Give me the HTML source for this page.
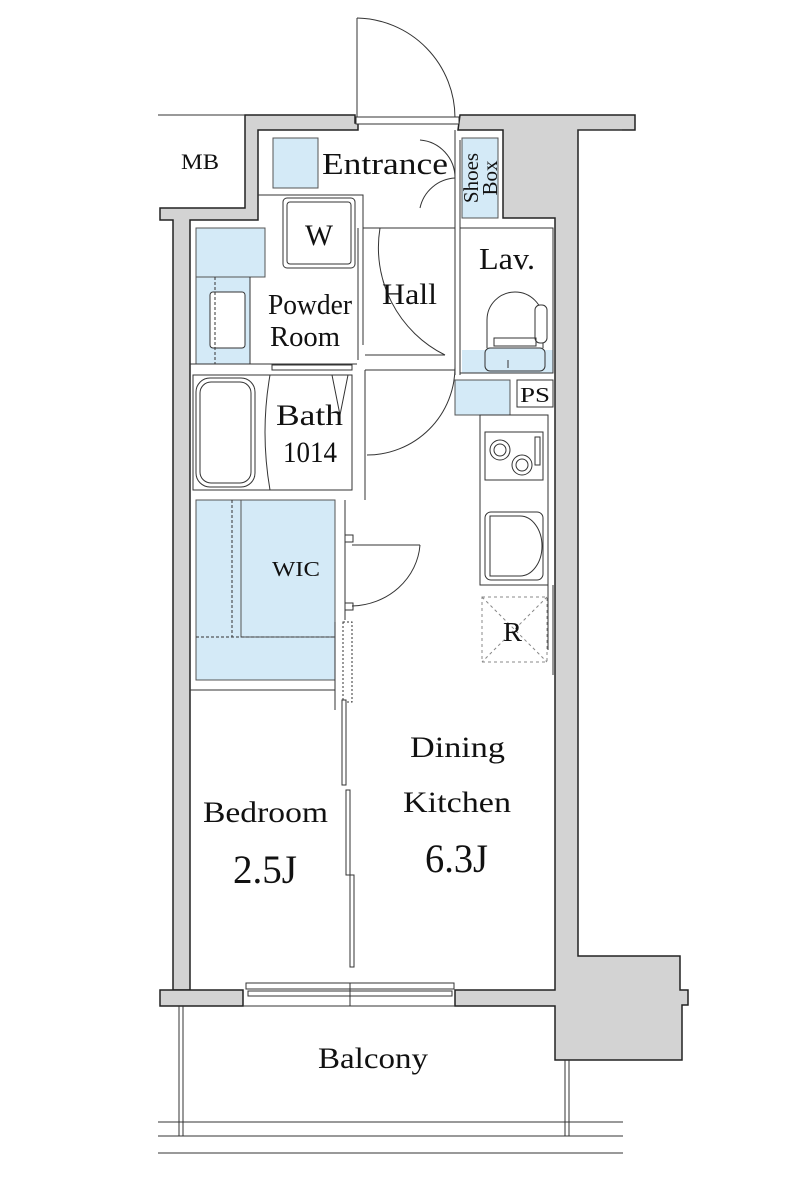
<!DOCTYPE html>
<html><head><meta charset="utf-8"><style>
html,body{margin:0;padding:0;background:#fff;}
svg{display:block;}
text{font-family:"Liberation Serif",serif;fill:#111;}
</style></head><body>
<svg width="800" height="1200" viewBox="0 0 800 1200" xmlns="http://www.w3.org/2000/svg">
<g stroke="#222" stroke-width="1.5" fill="#d3d3d3">
<path d="M160,208 L245,208 L245,115 L355,115 L355,123 L358,123 L358,130 L258,130 L258,220 L190,220 L190,990 L173,990 L173,220 L160,220 Z"/>
<path d="M458,130 L460,115 L635,115 L635,130 L578,130 L578,956 L680,956 L680,990 L688,990 L688,1005 L682,1005 L682,1060 L555,1060 L555,1006 L455,1006 L455,990 L555,990 L555,218 L503,218 L503,130 Z"/>
<path d="M160,990 L243,990 L243,1006 L160,1006 Z"/>
</g>
<rect x="174" y="221" width="15" height="10" fill="#d3d3d3"/>
<g stroke="#333" stroke-width="1" fill="none">
<line x1="158" y1="115" x2="245" y2="115"/>
<line x1="578" y1="130" x2="622" y2="130"/>
<line x1="357" y1="18" x2="357" y2="118"/>
<path d="M357,18 A100,100 0 0 1 455,118"/>
<rect x="356" y="117" width="103" height="7" fill="#fff"/>
</g>
<g fill="#d4eaf7" stroke="#555" stroke-width="1">
<rect x="273" y="138" width="45" height="50"/>
<rect x="462" y="138" width="36" height="80"/>
<rect x="196" y="228" width="69" height="49"/>
<rect x="196" y="277" width="54" height="87"/>
<rect x="462" y="350" width="91" height="23" stroke="none"/>
<rect x="455" y="380" width="55" height="35"/>
<rect x="196" y="500" width="139" height="180"/>
<rect x="241" y="500" width="94" height="137"/>
</g>
<g stroke="#333" stroke-width="1" fill="none">
<polyline points="258,195 363,195 363,345"/>
<polyline points="363,228 455,228"/>
<line x1="455" y1="130" x2="455" y2="375"/>
<line x1="460" y1="140" x2="460" y2="375"/>
<path d="M420,140 A38,38 0 0 1 455,178"/>
<path d="M455,178 A38,38 0 0 0 420,208"/>
<rect x="283" y="198" width="72" height="70" rx="4"/>
<rect x="287" y="202" width="64" height="62" rx="3"/>
<rect x="210" y="292" width="35" height="56" rx="3" fill="#fff"/>
<line x1="215" y1="277" x2="215" y2="364" stroke-dasharray="3,2"/>
<line x1="250" y1="277" x2="250" y2="364"/>
<line x1="190" y1="364" x2="357" y2="364"/>
<rect x="272" y="365" width="80" height="5" fill="#fff"/>
<path d="M380,228 A120,120 0 0 0 445,355"/>
<line x1="365" y1="355" x2="445" y2="355"/>
<line x1="365" y1="370" x2="455" y2="370"/>
<path d="M367,455 A88,88 0 0 0 455,367"/>
<line x1="365" y1="370" x2="365" y2="500"/>
<line x1="358" y1="228" x2="358" y2="360"/>
<rect x="193" y="375" width="159" height="115"/>
<rect x="196" y="378" width="59" height="109" rx="14"/>
<rect x="200" y="382" width="51" height="101" rx="11"/>
<path d="M270,375 Q260,432 270,490"/>
<path d="M332,375 L340,415 L348,375"/>
<rect x="460" y="228" width="93" height="145"/>
<path d="M487,348 L487,320 A28,28 0 0 1 543,320 L543,348"/>
<rect x="535" y="305" width="12" height="38" rx="5" fill="#fff"/>
<rect x="494" y="338" width="42" height="8"/>
<rect x="485" y="348" width="60" height="23" rx="5" fill="#d4eaf7"/>
<line x1="508" y1="360" x2="508" y2="368"/>
<rect x="517" y="380" width="36" height="27"/>
<rect x="480" y="415" width="68" height="170"/>
<rect x="485" y="432" width="58" height="48"/>
<circle cx="500" cy="450" r="10"/><circle cx="500" cy="450" r="6"/>
<circle cx="522" cy="465" r="10"/><circle cx="522" cy="465" r="6"/>
<rect x="535" y="437" width="5" height="28"/>
<rect x="485" y="512" width="58" height="68" rx="6"/>
<path d="M490,516 L520,516 A22,30 0 0 1 520,576 L490,576 Z"/>
<line x1="548" y1="585" x2="548" y2="650"/>
<line x1="553" y1="585" x2="553" y2="675"/>
<g stroke-dasharray="3,3" stroke="#888">
<rect x="482" y="597" width="65" height="65"/>
<line x1="482" y1="597" x2="547" y2="662"/>
<line x1="547" y1="597" x2="482" y2="662"/>
</g>
<line x1="196" y1="637" x2="335" y2="637" stroke-dasharray="3,2"/>
<line x1="232" y1="500" x2="232" y2="637" stroke-dasharray="3,2"/>
<line x1="345" y1="500" x2="345" y2="620"/>
<rect x="345" y="535" width="8" height="7"/>
<rect x="345" y="603" width="8" height="7"/>
<path d="M420,545 A70,66 0 0 1 352,606"/>
<line x1="352" y1="545" x2="420" y2="545"/>
<line x1="190" y1="690" x2="335" y2="690"/>
<line x1="335" y1="622" x2="335" y2="690"/>
<rect x="343" y="622" width="9" height="80" stroke-dasharray="2,2"/>
<line x1="335" y1="690" x2="335" y2="710"/>
<rect x="342" y="700" width="4" height="85" fill="#fff"/>
<rect x="346" y="790" width="4" height="85" fill="#fff"/>
<rect x="350" y="875" width="4" height="92" fill="#fff"/>
<rect x="246" y="983" width="208" height="6" fill="#fff"/>
<rect x="248" y="991" width="204" height="5" fill="#fff"/>
<line x1="350" y1="983" x2="350" y2="1006"/>
<line x1="243" y1="1006" x2="455" y2="1006"/>
<line x1="179" y1="1006" x2="179" y2="1136"/>
<line x1="183" y1="1006" x2="183" y2="1136"/>
<line x1="565" y1="1060" x2="565" y2="1136"/>
<line x1="569" y1="1060" x2="569" y2="1136"/>
<line x1="158" y1="1122" x2="623" y2="1122"/>
<line x1="158" y1="1136" x2="623" y2="1136"/>
<line x1="158" y1="1153" x2="623" y2="1153"/>
</g>
<g lengthAdjust="spacingAndGlyphs">
<text x="181" y="169" font-size="22" textLength="38" lengthAdjust="spacingAndGlyphs">MB</text>
<text x="322" y="174" font-size="31" textLength="126" lengthAdjust="spacingAndGlyphs">Entrance</text>
<text transform="translate(478,178) rotate(-90)" font-size="21" text-anchor="middle">Shoes</text>
<text transform="translate(497,178) rotate(-90)" font-size="21" text-anchor="middle">Box</text>
<text x="305" y="245" font-size="30" textLength="28" lengthAdjust="spacingAndGlyphs">W</text>
<text x="268" y="314" font-size="28" textLength="84" lengthAdjust="spacingAndGlyphs">Powder</text>
<text x="270" y="346" font-size="28" textLength="70" lengthAdjust="spacingAndGlyphs">Room</text>
<text x="382" y="304" font-size="30" textLength="55" lengthAdjust="spacingAndGlyphs">Hall</text>
<text x="479" y="269" font-size="31" textLength="56" lengthAdjust="spacingAndGlyphs">Lav.</text>
<text x="520" y="402" font-size="21" textLength="30" lengthAdjust="spacingAndGlyphs">PS</text>
<text x="276" y="425" font-size="30" textLength="67" lengthAdjust="spacingAndGlyphs">Bath</text>
<text x="283" y="462" font-size="30" textLength="54" lengthAdjust="spacingAndGlyphs">1014</text>
<text x="272" y="576" font-size="21" textLength="48" lengthAdjust="spacingAndGlyphs">WIC</text>
<text x="503" y="641" font-size="27" textLength="19" lengthAdjust="spacingAndGlyphs">R</text>
<text x="410" y="757" font-size="30" textLength="95" lengthAdjust="spacingAndGlyphs">Dining</text>
<text x="403" y="812" font-size="30" textLength="108" lengthAdjust="spacingAndGlyphs">Kitchen</text>
<text x="425" y="872" font-size="40" textLength="63" lengthAdjust="spacingAndGlyphs">6.3J</text>
<text x="203" y="822" font-size="30" textLength="125" lengthAdjust="spacingAndGlyphs">Bedroom</text>
<text x="233" y="883" font-size="40" textLength="64" lengthAdjust="spacingAndGlyphs">2.5J</text>
<text x="318" y="1068" font-size="30" textLength="110" lengthAdjust="spacingAndGlyphs">Balcony</text>
</g>
</svg>
</body></html>
